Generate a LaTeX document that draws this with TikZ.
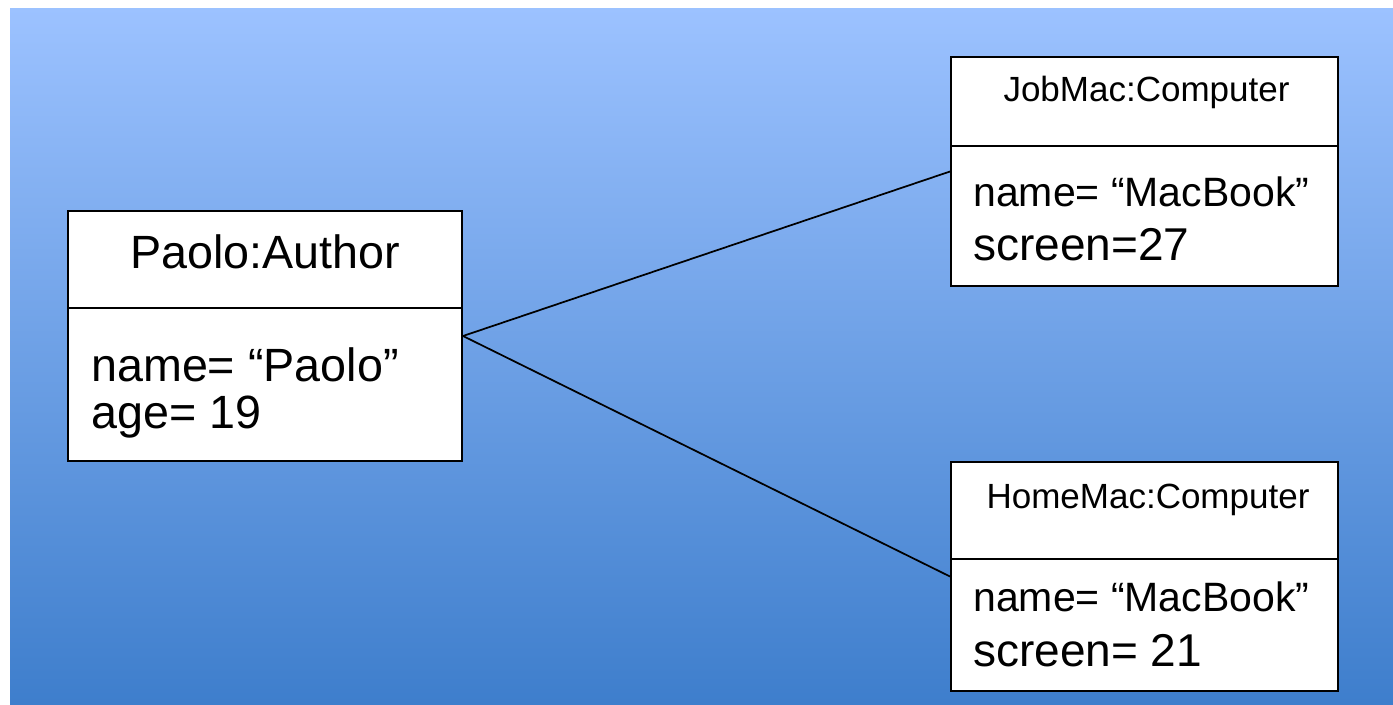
\documentclass[tikz,border=0pt]{standalone}
\usepackage{fontspec}
\setmainfont{Liberation Sans}
\begin{document}
\begin{tikzpicture}[x=0.75pt,y=-0.75pt,
  objbox/.style={draw=black, line width=1.5pt, fill=white, inner sep=0pt},
  txt/.style={inner sep=0pt, text=black},
  link/.style={draw=black, line width=1.3pt}]
\useasboundingbox (0,0) rectangle (1393,704);
\fill[white] (0,0) rectangle (1393,704);
\shade[top color={rgb,255:red,156;green,194;blue,255}, bottom color={rgb,255:red,62;green,126;blue,204}] (10,8) rectangle (1393,704);

% boxes
\node[objbox, minimum width=295.5pt, minimum height=187.5pt] (author) at (265,336) {};
\node[objbox, minimum width=290.25pt, minimum height=171.75pt] (job) at (1144.5,171.5) {};
\node[objbox, minimum width=290.25pt, minimum height=171.75pt] (home) at (1144.5,576.5) {};

% dividers
\draw[line width=1.5pt] (author.west |- 0,308) -- (author.east |- 0,308);
\draw[line width=1.5pt] (job.west |- 0,146) -- (job.east |- 0,146);
\draw[line width=1.5pt] (home.west |- 0,559) -- (home.east |- 0,559);

% titles
\node[txt, anchor=base, font=\fontsize{35pt}{42pt}\selectfont] (authortitle) at (265,268) {Paolo:Author};
\node[txt, anchor=base, font=\fontsize{26.25pt}{32pt}\selectfont] (jobtitle) at (1146.5,101.7) {JobMac:Computer};
\node[txt, anchor=base, font=\fontsize{26.25pt}{32pt}\selectfont] (hometitle) at (1148,508.3) {HomeMac:Computer};

% attributes
\node[txt, anchor=base west, font=\fontsize{35pt}{42pt}\selectfont] (a1) at (91,381.7) {name= “Paolo”};
\node[txt, anchor=base west, font=\fontsize{35pt}{42pt}\selectfont] (a2) at (91,428) {age= 19};
\node[txt, anchor=base west, font=\fontsize{30.75pt}{36pt}\selectfont] (j1) at (973,206.7) {name= “MacBook”};
\node[txt, anchor=base west, font=\fontsize{34.5pt}{40pt}\selectfont] (j2) at (973,260) {screen=27};
\node[txt, anchor=base west, font=\fontsize{30.75pt}{36pt}\selectfont] (h1) at (973,611.7) {name= “MacBook”};
\node[txt, anchor=base west, font=\fontsize{34.5pt}{40pt}\selectfont] (h2) at (973,666.7) {screen= 21};

% links
\draw[link] (author.east) -- (job.west);
\draw[link] (author.east) -- (home.west);
\end{tikzpicture}
\end{document}
